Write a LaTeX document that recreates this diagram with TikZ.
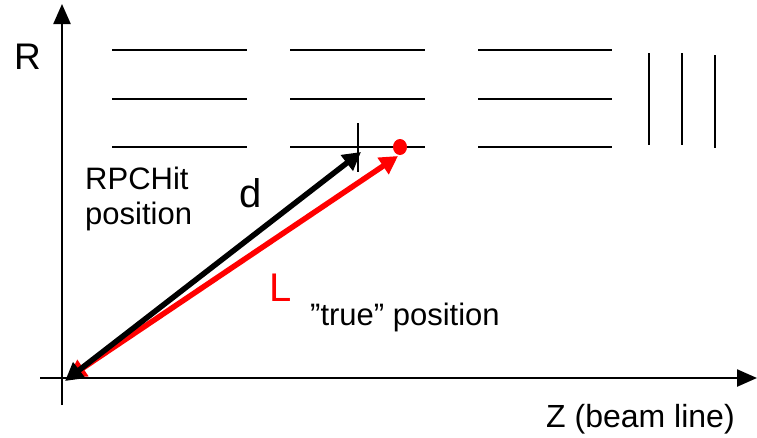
\documentclass[tikz,border=0pt]{standalone}
\usepackage{fontspec}
\setmainfont{Liberation Sans}
\usetikzlibrary{arrows.meta,shapes.geometric}
\begin{document}
\begin{tikzpicture}[x=1pt,y=-1pt,
  axis/.style={line width=2.4pt,-{Triangle[length=20pt,width=17pt]}},
  layer/.style={line width=1.3pt},
  vec/.style={line width=5.5pt,{Triangle[length=18pt,width=19pt]}-{Triangle[length=18pt,width=19pt]}},
  lbl/.style={inner sep=0pt,anchor=base west,font=\fontsize{31}{35}\selectfont},
  big/.style={inner sep=0pt,anchor=base west,font=\fontsize{40}{44}\selectfont}]
\useasboundingbox (0,0) rectangle (757,437);
% axes
\coordinate (zs) at (40,378);
\coordinate (ze) at (757,378);
\coordinate (rs) at (62,405);
\coordinate (re) at (62,4);
\draw[axis] (zs) -- (ze);
\draw[axis] (rs) -- (re);
% chamber layers
\foreach \y in {50,99,147}{
  \draw[layer] (112,\y) -- (247,\y);
  \draw[layer] (290,\y) -- (425,\y);
  \draw[layer] (478,\y) -- (612,\y);
}
\draw[layer] (649,53) -- (649,145);
\draw[layer] (682,53) -- (682,145);
\draw[layer] (715,55) -- (715,148);
% tick mark at RPC hit
\draw[layer] (358,123) -- (358,172);
% true position dot
\node (dot) [fill=red,ellipse,inner sep=0pt,minimum width=14pt,minimum height=16pt] at (400,147) {};
% vectors
\coordinate (o1) at (68,378);
\coordinate (t1) at (398,156);
\coordinate (o2) at (65,381);
\coordinate (t2) at (361,152);
\draw[vec,red] (o1) -- (t1);
\draw[vec,black] (o2) -- (t2);
% labels
\node (R) [lbl,font=\fontsize{37}{40}\selectfont] at (14,69) {R};
\node (hit1) [lbl] at (85,189) {RPCHit};
\node (hit2) [lbl] at (85,224) {position};
\node (d) [big] at (239,207) {d};
\node (L) [big,text=red] at (269,301) {L};
\node (true) [lbl] at (310,325) {”true” position};
\node (Z) [lbl,font=\fontsize{32}{36}\selectfont] at (546,427) {Z (beam line)};
\end{tikzpicture}
\end{document}
